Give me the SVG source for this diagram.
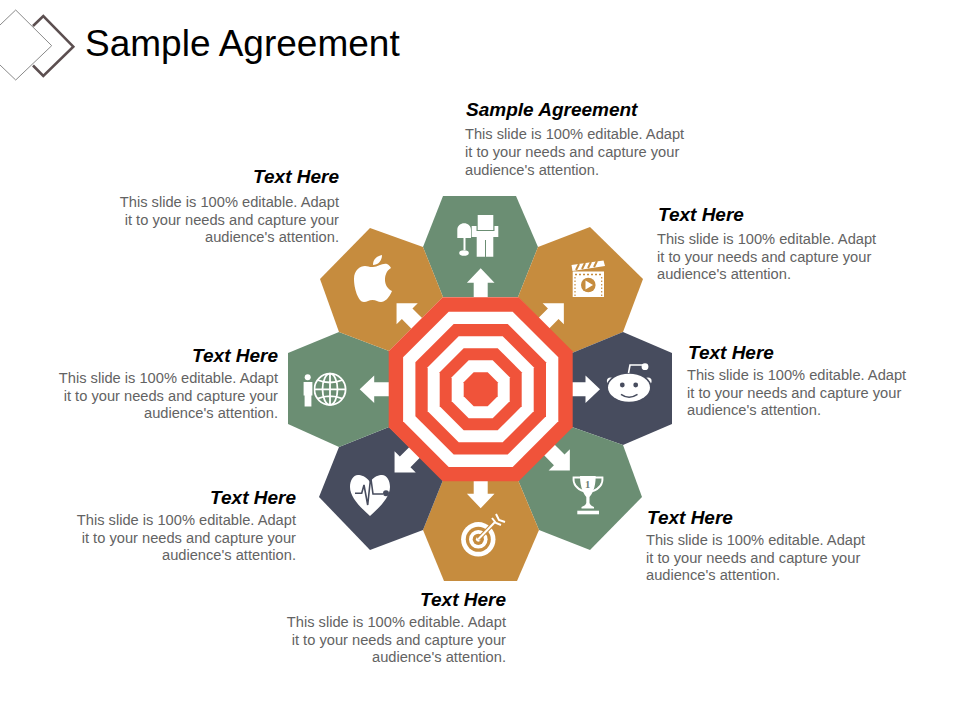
<svg xmlns="http://www.w3.org/2000/svg" width="960" height="720" viewBox="0 0 960 720">
<style>
.green{fill:#6b8e73}.gold{fill:#c68c3e}.navy{fill:#474c5e}.red{fill:#f0533a}.w{fill:#fff}
.ln{fill:none;stroke:#fff;stroke-width:1.8}
.h{font:italic bold 19px "Liberation Sans",Arial,sans-serif;fill:#000}
.t{font:14.67px "Liberation Sans",Arial,sans-serif;fill:#636363}
.e{text-anchor:end}
</style>
<defs>
<polygon id="arrow" points="0,-121 13.8,-106.5 7,-106.5 7,-90 -7,-90 -7,-106.5 -13.8,-106.5" fill="#fff"/>
<polygon id="arrow-d" points="0,-119 15,-104 7.5,-104 7.5,-88 -7.5,-88 -7.5,-104 -15,-104" fill="#fff"/>
</defs>
<rect width="960" height="720" fill="#fff"/>
<g id="header">
<polyline points="33,26 43.3,16 73.3,46.7 43.3,76 33,65.5" fill="none" stroke="#5c4f50" stroke-width="2.6"/>
<polyline points="0,25 15.7,10 51.7,45.7 15.7,80 0,65" fill="none" stroke="#8a8a8a" stroke-width="1"/>
<text x="85" y="56" font-family="'Liberation Sans',Arial,sans-serif" font-size="37" fill="#000">Sample Agreement</text>
</g>
<g id="node-top">
<polygon class="green" points="443,196 516,196 538,247 518,297 443,297 423,247"/>
<g class="w">
<rect x="477.7" y="215" width="15.6" height="15"/>
<path d="M471.7,226 H476.5 V231 H494.5 V226 H498.3 V237 H493.3 V256.7 H486 V240 H485 V256.7 H476.7 V237 H471.7 Z"/>
<path d="M457.3,238 V230 C457.3,221 471,221 471,230 V238 H465.5 V250 H463.5 V238 Z"/>
<ellipse cx="464" cy="253" rx="4.8" ry="2.8"/>
</g>
<text class="h" x="466" y="116">Sample Agreement</text>
<text class="t" x="465" y="139">This slide is 100% editable. Adapt</text>
<text class="t" x="465" y="157">it to your needs and capture your</text>
<text class="t" x="465" y="174.5">audience's attention.</text>
</g>
<g id="node-top-right">
<polygon class="gold" points="538,247 590,227 643,279 623,332 572,353 518,297"/>
<path class="w" d="M571.5,265 L603.5,260.5 L605,266 L572.5,271 Z"/>
<path d="M576,270 L579,264 M582,269 L585,263 M588,268 L591,262 M594,267 L597,261" stroke="#c68c3e" stroke-width="2" fill="none"/>
<rect class="w" x="572.7" y="271.5" width="31.3" height="25.5"/>
<path d="M575,274.5 H602 M575,297" stroke="#c68c3e" stroke-width="1.6" stroke-dasharray="2 2" fill="none"/>
<path d="M575,277 V296 M601.7,277 V296" stroke="#c68c3e" stroke-width="1.2" stroke-dasharray="1.5 2" fill="none"/>
<circle class="gold" cx="588.3" cy="285" r="7.3"/>
<polygon class="w" points="585.5,280.5 593,285 585.5,289.5"/>
<text class="h" x="658" y="221">Text Here</text>
<text class="t" x="657" y="244">This slide is 100% editable. Adapt</text>
<text class="t" x="657" y="262">it to your needs and capture your</text>
<text class="t" x="657" y="279">audience's attention.</text>
</g>
<g id="node-right">
<polygon class="navy" points="572,353 623,332 672,353 672,424 623,445 572,427"/>
<circle class="w" cx="610.5" cy="381" r="3.6"/><circle class="w" cx="648" cy="381" r="3.6"/>
<ellipse cx="629" cy="388" rx="23" ry="16" fill="#474c5e"/>
<ellipse class="w" cx="629" cy="387.7" rx="21" ry="14"/>
<circle class="navy" cx="622.3" cy="385" r="2.4"/><circle class="navy" cx="635.7" cy="385" r="2.4"/>
<path d="M621,394.3 Q629,400 637.5,394.3" fill="none" stroke="#474c5e" stroke-width="1.5"/>
<path d="M628.5,373 L630,365 H645" fill="none" stroke="#fff" stroke-width="1.6"/>
<circle class="w" cx="645" cy="366.7" r="3.4"/>
<text class="h" x="688" y="359">Text Here</text>
<text class="t" x="687" y="380">This slide is 100% editable. Adapt</text>
<text class="t" x="687" y="398">it to your needs and capture your</text>
<text class="t" x="687" y="415">audience's attention.</text>
</g>
<g id="node-bottom-right">
<polygon class="green" points="518,480 572,427 623,445 642,497 590,550 539,530"/>
<g class="w">
<path d="M580,476 H595.7 C595.7,488 592,494 589.5,497 V503 C590,505 592,506 594,507 V508.5 H581.5 V507 C583.5,506 586,505 586.3,503 V497 C584,494 580,488 580,476 Z"/>
<rect x="577.3" y="510.7" width="21.7" height="3.6"/>
</g>
<path d="M581,477.5 H573.5 C573,484 577,489 584,491.5 M595,477.5 H602.5 C603,484 599,489 592,491.5" fill="none" stroke="#fff" stroke-width="1.8"/>
<text x="587.6" y="488" text-anchor="middle" font-family="'Liberation Serif',serif" font-weight="bold" font-size="10.5" fill="#6f7f75">1</text>
<text class="h" x="647" y="524">Text Here</text>
<text class="t" x="646" y="545">This slide is 100% editable. Adapt</text>
<text class="t" x="646" y="563">it to your needs and capture your</text>
<text class="t" x="646" y="580">audience's attention.</text>
</g>
<g id="node-bottom">
<polygon class="gold" points="443,480 518,480 539,530 517,581 444,581 423,530"/>
<circle class="w" cx="478.3" cy="539.3" r="17.2"/>
<circle class="gold" cx="478.3" cy="539.3" r="12.5"/>
<circle class="w" cx="478.3" cy="539.3" r="9.3"/>
<circle class="gold" cx="478.3" cy="539.3" r="5.6"/>
<circle class="w" cx="478.3" cy="539.3" r="2.4"/>
<path d="M478.3,539.3 L495,522" stroke="#c68c3e" stroke-width="4.2" fill="none"/>
<path d="M478.3,539.3 L495,522" stroke="#fff" stroke-width="2" fill="none"/>
<path d="M492,518 L496,523 L501,525 M496,514 L499,520 L505,522" stroke="#fff" stroke-width="2" fill="none"/>
<text class="h e" x="506" y="606">Text Here</text>
<text class="t e" x="506" y="627">This slide is 100% editable. Adapt</text>
<text class="t e" x="506" y="645">it to your needs and capture your</text>
<text class="t e" x="506" y="662">audience's attention.</text>
</g>
<g id="node-bottom-left">
<polygon class="navy" points="389,427 443,480 423,530 370,550 319,497 339,447"/>
<path class="w" d="M370,482 C366,476 361,475 358,475 C353,475 350,481 350,487 C350,497 360,507 370,516 C380,507 390,497 390,487 C390,481 387,475 382,475 C379,475 374,476 370,482 Z"/>
<path d="M355,493.3 H361.7 L364,485 L367.7,505 L370.7,477 L373,494 H383" fill="none" stroke="#474c5e" stroke-width="1.6"/>
<circle class="navy" cx="386" cy="493.3" r="3"/>
<text class="h e" x="296" y="504">Text Here</text>
<text class="t e" x="296" y="525">This slide is 100% editable. Adapt</text>
<text class="t e" x="296" y="543">it to your needs and capture your</text>
<text class="t e" x="296" y="560">audience's attention.</text>
</g>
<g id="node-left">
<polygon class="green" points="389,351 389,427 339,447 288,424 288,353 339,332"/>
<g class="ln">
<circle cx="330" cy="389.3" r="15.6"/>
<ellipse cx="330" cy="389.3" rx="7.5" ry="15.6"/>
<path d="M330,373.7 V405 M314.4,389.3 H345.6 M317.5,380 Q330,385 342.5,380 M317.5,398.6 Q330,393.6 342.5,398.6"/>
</g>
<path d="M303,381.5 H313 V396 H312 V407 H304 V396 H303 Z" fill="#fff" stroke="#6b8e73" stroke-width="1.2"/>
<circle class="w" cx="307.7" cy="377.3" r="3"/>
<text class="h e" x="278" y="362">Text Here</text>
<text class="t e" x="278" y="383">This slide is 100% editable. Adapt</text>
<text class="t e" x="278" y="401">it to your needs and capture your</text>
<text class="t e" x="278" y="418">audience's attention.</text>
</g>
<g id="node-top-left">
<polygon class="gold" points="443,297 389,351 339,332 320,279 370,228 423,247"/>
<path class="w" d="M373,267 C378,267 382,263 387,264 C389,265 390,266 391,268 C386,271 385,276 385,280 C385,285 388,289 392,291 C389,298 385,302 381,302 C378,302 376,300 372.5,300 C369,300 367,302 364,302 C358,302 354,288 354,279 C354,270 360,266 365,266 C368,266 370,267.5 373,267 Z M373,265 C373,259 377,256 382,255 C382,261 378,265 373,265 Z"/>
<text class="h e" x="339" y="183">Text Here</text>
<text class="t e" x="339" y="207">This slide is 100% editable. Adapt</text>
<text class="t e" x="339" y="225">it to your needs and capture your</text>
<text class="t e" x="339" y="242">audience's attention.</text>
</g>
<g id="connectors" transform="translate(480.7 389.3)">
<use href="#arrow"/>
<use href="#arrow-d" transform="translate(-1 -2) rotate(45)"/>
<use href="#arrow" transform="translate(-1.7 0) rotate(90)"/>
<use href="#arrow-d" transform="translate(5 -3) rotate(135)"/>
<use href="#arrow" transform="translate(0 -2) rotate(180)"/>
<use href="#arrow-d" transform="translate(-2 -1) rotate(225)"/>
<use href="#arrow" transform="rotate(270)"/>
<use href="#arrow-d" transform="translate(0 -2) rotate(315)"/>
</g>
<g id="target" transform="translate(480.7 389.3)">
<polygon class="red" points="-38,-92 38,-92 92,-38 92,38 38,92 -38,92 -92,38 -92,-38"/>
<polygon class="w" points="-32,-77.6 32,-77.6 77.6,-32 77.6,32 32,77.6 -32,77.6 -77.6,32 -77.6,-32"/>
<polygon class="red" points="-27,-65.3 27,-65.3 65.3,-27 65.3,27 27,65.3 -27,65.3 -65.3,27 -65.3,-27"/>
<polygon class="w" points="-22,-53 22,-53 53,-22 53,22 22,53 -22,53 -53,22 -53,-22"/>
<polygon class="red" points="-17,-41 17,-41 41,-17 41,17 17,41 -17,41 -41,17 -41,-17"/>
<polygon class="w" points="-12,-29 12,-29 29,-12 29,12 12,29 -12,29 -29,12 -29,-12"/>
<polygon class="red" points="-7,-17 7,-17 17,-7 17,7 7,17 -7,17 -17,7 -17,-7"/>
</g>
</svg>
